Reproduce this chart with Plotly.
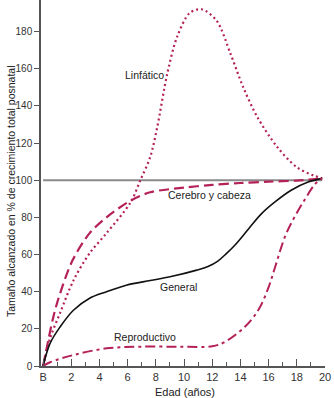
import plotly.graph_objects as go

# ---- data ----
lin_age = [0, 0.5, 1.2, 2.15, 3.3, 4.5, 6.2, 6.9, 7.6, 8.1, 8.8, 9.5, 10.4, 11.25, 12.3, 13.3, 14.2, 15.2, 16.6, 18, 19.2, 19.8]
lin_val = [0, 15, 28.5, 46, 60.7, 71.5, 88, 100, 112.5, 128.7, 157, 177, 190, 192, 186, 168, 150, 134, 118, 107, 102.5, 101]

cer_age = [0, 0.73, 1.2, 2.1, 3.3, 4.5, 6.2, 7.6, 10, 12, 14, 16, 18, 19.8]
cer_val = [0, 26.5, 39, 57, 71.5, 80, 89, 93.5, 96, 97.5, 98.5, 99.2, 99.8, 101]

gen_age = [0, 0.5, 1.2, 2.15, 3.3, 4.5, 5.9, 7.6, 9, 10.9, 11.7, 12.4, 13, 13.6, 14.6, 15.5, 16.45, 17.6, 18.8, 19.8]
gen_val = [0, 12.3, 21, 30, 36.5, 40, 43.5, 46, 48, 51.6, 53.6, 56.5, 60.5, 65, 74, 82, 88.3, 94.6, 99, 101]

rep_age = [0, 0.5, 2.15, 4.5, 6.9, 9.7, 12, 12.9, 14.3, 15.3, 16, 16.45, 17.2, 17.9, 18.6, 19.3, 19.8]
rep_val = [0, 2, 5.9, 9.5, 10.4, 10.4, 10.6, 13, 21, 30.5, 42.5, 53, 70.4, 81, 90, 98, 101]

ref_age = [0, 19.8]
ref_val = [100, 100]

x_tickvals = list(range(0, 21, 2))
x_ticktext = ["B"] + [str(v) for v in range(2, 21, 2)]
y_tickvals = list(range(0, 181, 20))

labels = ["Linfático", "Cerebro y cabeza", "General", "Reproductivo"]
label_x = [7.16, 11.77, 9.57, 7.23]
label_y = [156.5, 92, 42.5, 15.6]

RED = "#b42058"
FONT = "Liberation Sans, Arial, sans-serif"

fig = go.Figure()
fig.add_trace(go.Scatter(x=ref_age, y=ref_val, mode="lines",
                         line=dict(color="#8a8a8a", width=2), cliponaxis=False))
fig.add_trace(go.Scatter(x=lin_age, y=lin_val, mode="lines", line_shape="spline",
                         line=dict(color=RED, width=2.2, dash="2px,3px", smoothing=0.9),
                         cliponaxis=False))
fig.add_trace(go.Scatter(x=cer_age, y=cer_val, mode="lines", line_shape="spline",
                         line=dict(color=RED, width=2.2, dash="10px,5px", smoothing=0.9),
                         cliponaxis=False))
fig.add_trace(go.Scatter(x=gen_age, y=gen_val, mode="lines", line_shape="spline",
                         line=dict(color="#111111", width=1.6, smoothing=1.0),
                         cliponaxis=False))
fig.add_trace(go.Scatter(x=rep_age, y=rep_val, mode="lines", line_shape="spline",
                         line=dict(color=RED, width=2, dash="10px,4px,3px,4px", smoothing=1.0),
                         cliponaxis=False))

for t, x, y in zip(labels, label_x, label_y):
    fig.add_annotation(x=x, y=y, xref="x", yref="y", text=t, showarrow=False,
                       font=dict(size=10.5, color="#222222", family=FONT))

fig.add_annotation(text="Edad (años)", xref="x", x=10.1, yref="paper", y=0,
                   yanchor="top", yshift=-18, showarrow=False,
                   font=dict(size=11, color="#222222", family=FONT))
fig.add_annotation(text="Tamaño alcanzado en % de crecimiento total posnatal",
                   xref="paper", x=0, xanchor="center", xshift=-30,
                   yref="paper", y=0.478, yanchor="middle",
                   textangle=-90, showarrow=False,
                   font=dict(size=10.5, color="#222222", family=FONT))

fig.update_layout(
    width=334, height=398,
    margin=dict(l=41, r=9, t=0, b=32),
    paper_bgcolor="white", plot_bgcolor="white",
    showlegend=False,
    font=dict(family=FONT, color="#333333"),
    xaxis=dict(range=[-0.15, 20], tickvals=x_tickvals, ticktext=x_ticktext,
               showgrid=False, zeroline=False, showline=True, linecolor="#555555",
               linewidth=1.5, ticks="inside", ticklen=7, tickcolor="#555555",
               tickfont=dict(size=11, color="#333333"),
               minor=dict(dtick=1, ticks="inside", ticklen=4, tickcolor="#555555",
                          showgrid=False)),
    yaxis=dict(range=[0, 197], tickvals=y_tickvals, showgrid=False, zeroline=False,
               showline=True, linecolor="#555555", linewidth=1.5, ticks="outside",
               ticklen=5, tickcolor="#555555",
               tickfont=dict(size=10, color="#333333")),
)

fig.write_html("out.html")
